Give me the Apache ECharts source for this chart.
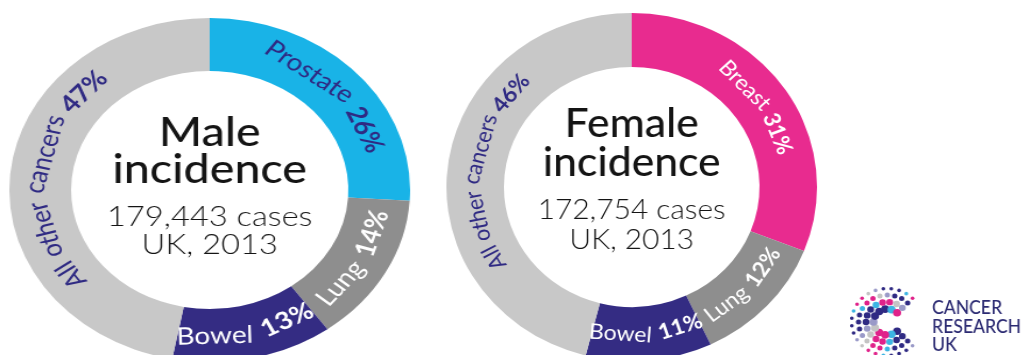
<!DOCTYPE html>
<html>
<head>
<meta charset="utf-8">
<script src="https://cdn.jsdelivr.net/npm/echarts@6/dist/echarts.min.js"></script>
<style>
  html, body { margin: 0; padding: 0; background: #fff; width: 1028px; height: 355px; overflow: hidden; }
  .panel { position: absolute; top: 0; height: 355px; transform-origin: 0 0; }
  #male { left: 0; width: 360px; transform: scaleX(1.165); }
  #female { left: 440px; width: 552px; transform: scaleX(1.065); }
</style>
</head>
<body>
<div id="male" class="panel"></div>
<div id="female" class="panel"></div>
<script>
// Cancer incidence, UK 2013 — share of new cases by site
const maleCategories = ['Prostate', 'Lung', 'Bowel', 'All other cancers'];
const maleValues = [26, 14, 13, 47];
const femaleCategories = ['Breast', 'Lung', 'Bowel', 'All other cancers'];
const femaleValues = [31, 12, 11, 46];

const maleTitle = ['Male', 'incidence'];
const femaleTitle = ['Female', 'incidence'];
const maleCases = '179,443 cases';
const femaleCases = '172,754 cases';
const placeYear = 'UK, 2013';
const logoLines = ['CANCER', 'RESEARCH', 'UK'];

const NAVY = '#2F2A83';
const FONT = 'Lato, "Open Sans", "DejaVu Sans", sans-serif';

const measureCtx = document.createElement('canvas').getContext('2d');
function textWidth(text, size, weight) {
  measureCtx.font = weight + ' ' + size + 'px ' + FONT;
  return measureCtx.measureText(text).width;
}

// Lay the words of a slice label along the middle of the ring
function arcLabel(name, value, startFrac, fracSpan, geo, color) {
  const mid = (startFrac + fracSpan / 2) * Math.PI * 2;   // clockwise from 12 o'clock
  const words = name.split(' ').map(w => ({ text: w, weight: 400 }));
  words.push({ text: value + '%', weight: 700 });
  const space = textWidth(' ', geo.labelSize, 400) * geo.wordGap;
  words.forEach(w => { w.width = textWidth(w.text, geo.labelSize, w.weight); });
  const total = words.reduce((s, w) => s + w.width, 0) + space * (words.length - 1);
  const flip = mid > Math.PI / 2 && mid < Math.PI * 3 / 2;
  const dir = flip ? -1 : 1;
  const r = geo.labelRadius;
  const out = [];
  let s = -total / 2;
  words.forEach(w => {
    const c = s + w.width / 2;
    const t = mid + dir * c / r;
    out.push({
      type: 'text',
      z: 100,
      x: geo.cx + r * Math.sin(t),
      y: geo.cy - r * Math.cos(t),
      rotation: flip ? Math.PI - t : -t,
      silent: true,
      style: {
        text: w.text,
        fontFamily: FONT,
        fontSize: geo.labelSize,
        fontWeight: w.weight,
        fill: color,
        align: 'center',
        verticalAlign: 'middle'
      }
    });
    s += w.width + space;
  });
  return out;
}

function centerText(text, x, y, size, weight) {
  return {
    type: 'text', x: x, y: y, z: 100, silent: true,
    style: { text: text, fontFamily: FONT, fontSize: size, fontWeight: weight,
             fill: '#141414', align: 'center', verticalAlign: 'middle' }
  };
}

function donut(el, categories, values, colors, labelColors, title, cases, geo, extra) {
  const chart = echarts.init(el, null, { renderer: 'canvas' });
  const total = values.reduce((a, b) => a + b, 0);
  const graphics = [];
  let acc = 0;
  categories.forEach((name, i) => {
    graphics.push(...arcLabel(name, values[i], acc / total, values[i] / total, geo, labelColors[i]));
    acc += values[i];
  });
  graphics.push(centerText(title[0], geo.cx, geo.cy + geo.lines[0], 40, 500));
  graphics.push(centerText(title[1], geo.cx, geo.cy + geo.lines[1], 40, 500));
  graphics.push(centerText(cases, geo.cx, geo.cy + geo.lines[2], 28, 300));
  graphics.push(centerText(placeYear, geo.cx, geo.cy + geo.lines[3], 28, 300));
  if (extra) graphics.push(...extra);

  chart.setOption({
    animation: false,
    series: [{
      type: 'pie',
      z: 2,
      center: [geo.cx, geo.cy],
      radius: [geo.inner, geo.outer],
      startAngle: 90,
      clockwise: true,
      silent: true,
      label: { show: false },
      labelLine: { show: false },
      emphasis: { disabled: true },
      itemStyle: { borderWidth: 0 },
      data: categories.map((name, i) => ({ name: name, value: values[i], itemStyle: { color: colors[i] } }))
    }],
    graphic: { elements: graphics }
  });
  return chart;
}

// Charity logo: a "C" built from rows of coloured dots, plus the wordmark
function logo(cx, cy, textX) {
  const dotColors = ['#2F2A83', '#E0228A', '#2F2A83', '#3DB5E3', '#C4C4C4', '#2F2A83', '#E0228A', '#9A9AC8'];
  const items = [];
  const rows = [
    { r: 13, size: 3.8, n: 11 },
    { r: 20, size: 3.2, n: 15 },
    { r: 27, size: 2.5, n: 19 },
    { r: 33.5, size: 1.8, n: 22 }
  ];
  rows.forEach((row, ri) => {
    for (let k = 0; k < row.n; k++) {
      const t = (135 + (270 * k) / (row.n - 1)) * Math.PI / 180;
      items.push({
        type: 'circle', z: 100, silent: true,
        shape: { cx: cx + row.r * Math.sin(t), cy: cy - row.r * Math.cos(t), r: row.size },
        style: { fill: dotColors[(k * 3 + ri * 5) % dotColors.length] }
      });
    }
  });
  logoLines.forEach((line, i) => {
    items.push({
      type: 'text', x: textX, y: 308 + i * 18.5, z: 100, silent: true,
      scaleY: 1.2,
      style: { text: line, fontFamily: FONT, fontSize: 16.5, fontWeight: 500,
               fill: '#2B2A72', align: 'left', verticalAlign: 'middle' }
    });
  });
  return items;
}

donut(
  document.getElementById('male'),
  maleCategories, maleValues,
  ['#19B3E7', '#8E8E8E', '#342C83', '#C8C8C8'],
  [NAVY, '#FFFFFF', '#FFFFFF', NAVY],
  maleTitle, maleCases,
  { cx: 180, cy: 190, inner: 119, outer: 172, labelRadius: 146, labelSize: 24, wordGap: 1.3,
    lines: [-57, -20, 27, 55] }
);

donut(
  document.getElementById('female'),
  femaleCategories, femaleValues,
  ['#E82B8F', '#8E8E8E', '#342C83', '#C8C8C8'],
  ['#FFFFFF', '#FFFFFF', '#FFFFFF', NAVY],
  femaleTitle, femaleCases,
  { cx: 180, cy: 187, inner: 120, outer: 174, labelRadius: 147, labelSize: 21.5, wordGap: 1.15,
    lines: [-63, -24, 23, 53] },
  logo(420, 322, 462)
);
</script>
</body>
</html>
